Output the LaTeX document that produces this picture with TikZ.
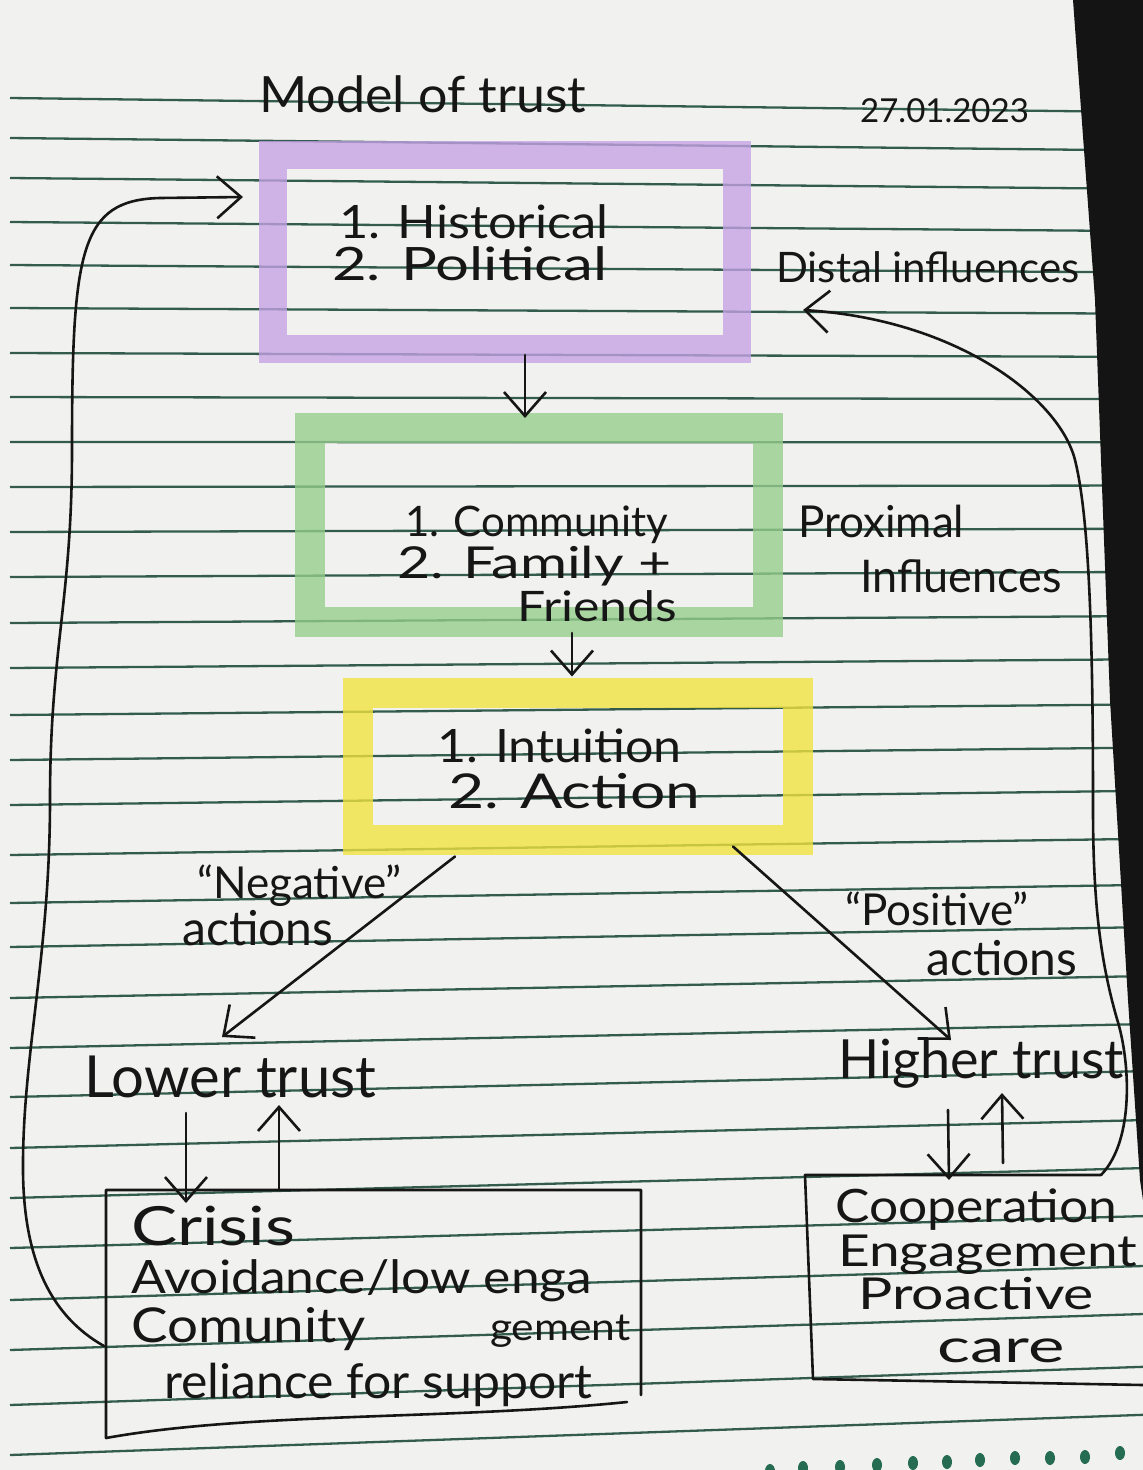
\documentclass[tikz,border=0pt]{standalone}
\usepackage{graphicx}
\usepackage{fontspec}
\setmainfont{Lato}
\usetikzlibrary{arrows.meta,calc}
\definecolor{paper}{RGB}{241,241,239}
\definecolor{rulecol}{RGB}{52,92,78}
\definecolor{hlpurple}{RGB}{198,162,230}
\definecolor{hlgreen}{RGB}{150,206,140}
\definecolor{hlyellow}{RGB}{242,228,62}
\definecolor{ink}{RGB}{22,22,22}
\definecolor{dotgreen}{RGB}{38,108,82}
\newcommand\fsz[1]{\fontsize{#1}{#1}\selectfont}
\newcommand\wide[2]{\scalebox{#1}[1]{#2}}
\begin{document}
\begin{tikzpicture}[x=1pt,y=-1pt,
  hl/.style={draw=#1, draw opacity=0.78, line width=28pt, line join=miter, fill=none, inner sep=0pt, outer sep=0pt},
  hw/.style={inner sep=0pt, anchor=base west, text=ink},
  pen/.style={draw=ink, line width=2.6pt, line cap=round, line join=round},
  arr/.style={pen, -{Straight Barb[length=24pt,width=42pt]}},
  boxframe/.style={inner sep=0pt, outer sep=0pt, draw=none},
  rline/.style={draw=rulecol, line width=2.3pt}
]
\useasboundingbox (0,0) rectangle (1143,1470);
\fill[paper] (0,0) rectangle (1143,1470);
% ruled notebook lines
\foreach \yy in {98,138,178,222,265,308,353,397,442,487,532,577,623,668,715,760,805,855,903,947,998,1048,1097,1148,1198,1248,1300,1350,1405,1455}
  \draw[rline] (10,\yy) -- (1143,{\yy+10-0.04*(\yy-200)});
% dark table edge at right
\fill[black!92] (1073,0) -- (1095,300) -- (1110,700) -- (1128,1000) -- (1140,1180) -- (1143,1200) -- (1143,0) -- cycle;
% margin dots
\foreach \dx/\dy in {770/1471,803/1468,840/1467,877/1465,913/1463,947/1462,980/1460,1015/1458,1050/1458,1085/1457,1120/1453}
  \fill[dotgreen] (\dx,\dy) ellipse [x radius=5, y radius=7];

% highlighter boxes
\node[hl=hlpurple, minimum width=464pt, minimum height=194pt] (distal) at (505,252) {};
\node[hl=hlgreen, minimum width=458pt, minimum height=194pt, line width=30pt] (proximal) at (539,525) {};
\node[hl=hlyellow, minimum width=440pt, minimum height=147pt, line width=30pt] (indiv) at (578,766) {};

% pen boxes
\node[boxframe, minimum width=535pt, minimum height=244pt] (lowbox) at (373.5,1312) {};
\node[boxframe, minimum width=296pt, minimum height=204pt] (highbox) at (953,1277) {};
\draw[pen] ([shift={(0,-39)}]lowbox.south east) -- (lowbox.north east) -- (lowbox.north west) -- ([shift={(0,4)}]lowbox.south west)
  .. controls (250,1412) and (450,1420) .. ([shift={(-14,-32)}]lowbox.south east);
\draw[pen] (highbox.north east) -- (highbox.north west) -- ([shift={(8,0)}]highbox.south west) -- ([shift={(338,6)}]highbox.south west);

% texts
\node[hw, font=\fsz{50}] (title) at (259,112) {\wide{1.04}{Model of trust}};
\node[hw, font=\fsz{33}] (date) at (860,122) {27.01.2023};
\node[hw, font=\fsz{46}] (hist1) at (339,238) {\wide{1.1}{1. Historical}};
\node[hw, font=\fsz{46}] (hist2) at (332,280) {\wide{1.3}{2. Political}};
\node[hw, font=\fsz{42}] (distlab) at (776,282) {Distal influences};
\node[hw, font=\fsz{42}] (comm1) at (405,536) {1. Community};
\node[hw, font=\fsz{44}] (comm2) at (397,578) {\wide{1.3}{2. Family +}};
\node[hw, font=\fsz{42}] (comm3) at (517,621) {\wide{1.19}{Friends}};
\node[hw, font=\fsz{44}] (prox1) at (798,537) {Proximal};
\node[hw, font=\fsz{45}] (prox2) at (860,592) {Influences};
\node[hw, font=\fsz{46}] (ind1) at (437,762) {\wide{1.09}{1. Intuition}};
\node[hw, font=\fsz{48}] (ind2) at (448,808) {\wide{1.3}{2. Action}};
\node[hw, font=\fsz{44}] (neg1) at (197,898) {“Negative”};
\node[hw, font=\fsz{48}] (neg2) at (182,945) {actions};
\node[hw, font=\fsz{44}] (pos1) at (845,925) {“Positive”};
\node[hw, font=\fsz{48}] (pos2) at (926,975) {actions};
\node[hw, font=\fsz{58}] (lower) at (84,1097) {Lower trust};
\node[hw, font=\fsz{54}] (higher) at (838,1078) {Higher trust};
\node[hw, font=\fsz{54}] (crisis) at (131,1245) {\wide{1.28}{Crisis}};
\node[hw, font=\fsz{46}] (avoid) at (131,1293) {\wide{1.12}{Avoidance/low enga}};
\node[hw, font=\fsz{48}] (comun) at (131,1342) {\wide{1.14}{Comunity}};
\node[hw, font=\fsz{38}] (gement) at (490,1340) {\wide{1.12}{gement}};
\node[hw, font=\fsz{48}] (reliance) at (164,1398) {\wide{1.04}{reliance for support}};
\node[hw, font=\fsz{46}] (coop) at (835,1222) {\wide{1.12}{Cooperation}};
\node[hw, font=\fsz{44}] (engage) at (838,1266) {\wide{1.25}{Engagement}};
\node[hw, font=\fsz{44}] (proact) at (858,1309) {\wide{1.3}{Proactive}};
\node[hw, font=\fsz{46}] (care) at (937,1362) {\wide{1.5}{care}};

% connectors
\draw[arr] ([shift={(20,6)}]distal.south) -- ([shift={(-14,-10)}]proximal.north);
\draw[arr] ([shift={(33,11)}]proximal.south) -- ([shift={(-6,-16)}]indiv.north);
\draw[arr] ([shift={(-123,17)}]indiv.south) -- ([shift={(138,-60)}]lower.base west);
\draw[arr] ([shift={(155,7)}]indiv.south) -- ([shift={(113,-38)}]higher.base west);
\draw[arr] ([shift={(102,16)}]lower.base west) -- ([shift={(-187.5,13)}]lowbox.north);
\draw[arr] ([shift={(-94.5,0)}]lowbox.north) -- ([shift={(195,8)}]lower.base west);
\draw[arr] ([shift={(110,32)}]higher.base west) -- ([shift={(-4,5)}]highbox.north);
\draw[arr] ([shift={(50,-12)}]highbox.north) -- ([shift={(164,15)}]higher.base west);
% feedback loops
\draw[arr] ([shift={(-2,34)}]lowbox.west) .. controls (40,1310) and (22,1240) .. (23,1160)
  .. controls (24,1050) and (50,950) .. (50,800)
  .. controls (50,650) and (72,600) .. (72,450)
  .. controls (72,250) and (80,200) .. (160,198)
  -- ([shift={(-30,42)}]distal.north west);
\draw[arr] (highbox.north east) .. controls (1135,1140) and (1130,1060) .. (1117,1019)
  .. controls (1100,960) and (1093,900) .. (1093,808)
  .. controls (1093,650) and (1090,520) .. (1075,460)
  .. controls (1060,400) and (960,320) .. ([shift={(66,58)}]distal.east);
\end{tikzpicture}
\end{document}
